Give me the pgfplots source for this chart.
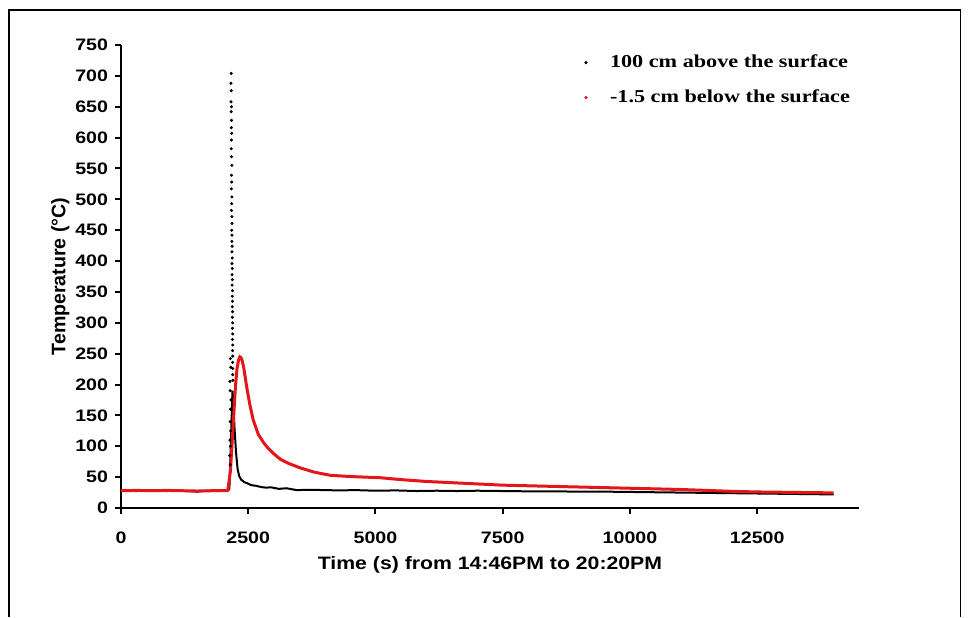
\documentclass[border=0pt]{standalone}
\usepackage{pgfplots}
\pgfplotsset{compat=1.18}
\usepackage{fontspec}
\setmainfont{Liberation Sans}
\newfontfamily\sfs{Liberation Sans}[FakeStretch=1.18]
\newfontfamily\rms{Liberation Serif}[FakeStretch=1.22]
\definecolor{curvered}{RGB}{228,22,26}

\begin{document}
\begin{tikzpicture}
% page: 969 x 617 px at 0.5pt per px
\path[use as bounding box] (0pt,0pt) rectangle (484.5pt,308.5pt);
\draw[line width=0.8pt] (4.6pt,0pt) -- (4.6pt,303.5pt) -- (480.3pt,303.5pt) -- (480.3pt,0pt);
\begin{axis}[
  at={(60.5pt,54.5pt)},
  anchor=origin,
  scale only axis,
  width=369pt,
  height=231.5pt,
  xmin=0, xmax=14500,
  ymin=0, ymax=750,
  xtick={0,2500,5000,7500,10000,12500},
  ytick={0,50,...,750},
  axis lines=left,
  axis line style={line width=1.3pt,-},
  tick style={line width=1pt,black},
  tick align=outside,
  major tick length=3pt,
  scaled x ticks=false,
  /pgf/number format/assume math mode=true,
  /pgf/number format/set thousands separator={},
  tick label style={font=\sfs\bfseries\fontsize{8.3}{10}\selectfont},
  xticklabel style={yshift=-5.5pt},
  xlabel={Time (s) from 14:46PM to 20:20PM},
  ylabel={Temperature (°C)},
  xlabel style={font=\sfs\bfseries\fontsize{9}{11}\selectfont,yshift=0.5pt},
  ylabel style={font=\bfseries\fontsize{9.8}{11}\selectfont,yshift=-4pt},
  legend style={at={(0.616,0.997)},anchor=north west,draw=none,fill=none,
    font=\rms\bfseries\fontsize{9.1}{11}\selectfont,row sep=5.5pt},
  legend cell align=left,
  legend image code/.code={\path[draw=none,fill=none] (-2pt,0pt) -- (10pt,0pt);
    \draw[#1] plot coordinates {(0pt,0pt)};},
  clip=false,
]
% 100 cm above the surface (line part)
\addplot[black,line width=1pt,forget plot] coordinates {
  (0,28) (300,27.5) (600,28.5) (900,27.5) (1200,28) (1500,26.5) (1700,28)
  (1900,27.5) (2100,28) (2130,32) (2160,110) (2190,190) (2205,175)
  (2230,130) (2260,90) (2290,64) (2320,52) (2360,46) (2420,42) (2480,40)
  (2560,37) (2650,36) (2750,34) (2850,33) (2950,33.5) (3100,31) (3250,32)
  (3450,29) (3700,29.5) (4000,29) (4300,28.5) (4600,29) (5000,28)
  (5400,28.5) (5800,27.5) (6200,28) (6600,27.5) (7000,28) (7500,27.5)
  (8000,27) (8500,27) (9000,26.5) (9500,26.5) (10000,26) (10500,25.5)
  (11000,25) (11500,24.5) (12000,24) (12500,23.5) (13000,23)
  (13500,22.5) (14000,22)
};
% -1.5 cm below the surface
\addplot[curvered,line width=1.5pt,forget plot] coordinates {
  (0,28) (300,28.5) (600,28) (900,28.5) (1200,28) (1500,27.5) (1800,28)
  (2050,28) (2100,29) (2150,60) (2200,130) (2250,198) (2280,226)
  (2310,240) (2335,245) (2355,244) (2380,239) (2410,228) (2440,212)
  (2470,196) (2530,168) (2600,142) (2700,119) (2800,106) (2880,98)
  (3000,88) (3130,79) (3300,72) (3520,65) (3800,58) (4110,53) (4500,51)
  (5100,49) (5500,46) (6000,43) (6500,41) (7000,39) (7500,37) (8000,36)
  (8500,35) (9000,34) (9500,33) (10000,32) (10500,31) (11000,30)
  (11500,28.5) (12000,27) (12500,26) (13000,25.5) (13500,25) (14000,24.5)
};
% 100 cm above the surface (scattered readings of the spike)
\addplot[black,only marks,mark=*,mark size=0.55pt,forget plot] coordinates {
  (2165,704) (2160,688) (2168,676) (2162,658) (2170,650) (2165,642)
  (2172,628) (2168,616) (2175,607) (2170,596) (2165,582) (2172,569)
  (2178,555) (2170,539) (2175,528) (2168,517) (2180,504) (2175,493)
  (2170,482) (2178,472) (2182,461) (2176,450) (2180,442) (2178,432)
  (2183,424) (2180,415) (2185,405) (2180,396) (2186,388) (2182,378)
  (2188,370) (2184,361) (2190,352) (2185,343) (2190,335) (2186,326)
  (2192,318) (2188,309) (2193,300) (2190,291) (2194,282) (2190,273)
  (2195,264) (2192,255) (2196,246) (2150,242) (2155,228) (2193,236)
  (2197,226) (2195,216) (2198,207) (2140,205) (2145,190) (2160,175)
  (2150,160) (2145,140) (2155,125) (2140,110) (2150,100) (2135,85)
  (2145,70)
};
\addlegendimage{only marks,mark=*,mark size=0.6pt,black}
\addlegendentry{100 cm above the surface}
\addlegendimage{only marks,mark=*,mark size=0.6pt,curvered}
\addlegendentry{-1.5 cm below the surface}
\end{axis}
\end{tikzpicture}
\end{document}
